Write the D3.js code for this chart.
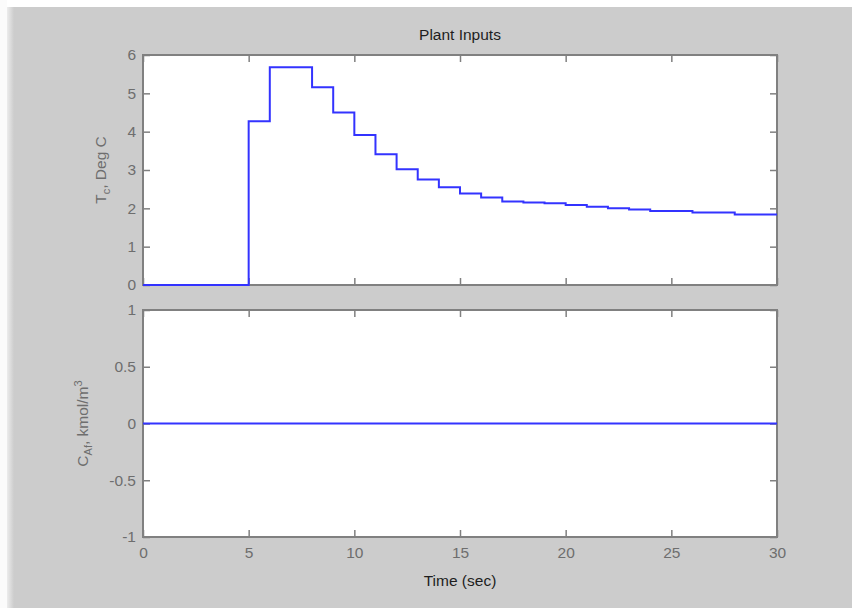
<!DOCTYPE html>
<html>
<head>
<meta charset="utf-8">
<script src="https://cdn.jsdelivr.net/npm/d3@7"></script>
<style>
  html, body { margin: 0; padding: 0; background: #cccccc; }
  svg { display: block; }
  text { font-family: "Liberation Sans", Arial, sans-serif; }
</style>
</head>
<body>
<svg id="chart" width="852" height="608"></svg>
<script>
// ---- data ----
const titleText = "Plant Inputs";
const xLabelText = "Time (sec)";
const sampleTimes = [0,1,2,3,4,5,6,7,8,9,10,11,12,13,14,15,16,17,18,19,20,21,22,23,24,25,26,27,28,29,30];
const tcValues    = [0,0,0,0,0,4.27,5.68,5.68,5.16,4.50,3.91,3.41,3.02,2.75,2.55,2.39,2.28,2.18,2.15,2.13,2.09,2.04,2.00,1.97,1.93,1.93,1.89,1.89,1.84,1.84,1.84];
const cafTimes  = [0, 30];
const cafValues = [0, 0];
const xTicks    = [0,5,10,15,20,25,30];
const topYTicks = [0,1,2,3,4,5,6];
const botYTicks = [-1,-0.5,0,0.5,1];

// ---- layout ----
const svg = d3.select("#chart");
const W = 852, H = 608;
const left = 143, right = 777;
const top1 = 55, bot1 = 285;
const top2 = 310, bot2 = 537;
const axisColor = "#808080", tickTextColor = "#6e6e6e", lineColor = "#3333ff";
const fs = 15.5;

// background decorations (white border strip at top/left)
const defs = svg.append("defs");
const grad = defs.append("linearGradient").attr("id", "lg").attr("x1", 0).attr("x2", 1);
grad.append("stop").attr("offset", "0%").attr("stop-color", "#ececec");
grad.append("stop").attr("offset", "100%").attr("stop-color", "#cccccc");
svg.append("rect").attr("x", 0).attr("y", 0).attr("width", W).attr("height", H).attr("fill", "#cccccc");
svg.append("rect").attr("x", 7).attr("y", 7).attr("width", 7).attr("height", H - 7).attr("fill", "url(#lg)");
svg.append("rect").attr("x", 0).attr("y", 0).attr("width", W).attr("height", 7).attr("fill", "#ffffff");
svg.append("rect").attr("x", 0).attr("y", 0).attr("width", 7).attr("height", H).attr("fill", "#fbfbfb");

const x = d3.scaleLinear().domain([0, 30]).range([left, right]);
const yTop = d3.scaleLinear().domain([0, 6]).range([bot1, top1]);
const yBot = d3.scaleLinear().domain([-1, 1]).range([bot2, top2]);

function panel(y, yTicks, yFmt, showXLabels) {
  const g = svg.append("g");
  const y0 = y.range()[0], y1 = y.range()[1];
  g.append("rect").attr("x", left).attr("y", y1).attr("width", right - left).attr("height", y0 - y1)
    .attr("fill", "#ffffff");
  const ab = g.append("g").attr("transform", `translate(0,${y0})`)
    .call(d3.axisBottom(x).tickValues(xTicks).tickSizeInner(-7).tickSizeOuter(0).tickPadding(10)
      .tickFormat(showXLabels ? d3.format("d") : ""));
  const at = g.append("g").attr("transform", `translate(0,${y1})`)
    .call(d3.axisTop(x).tickValues(xTicks).tickSizeInner(-7).tickSizeOuter(0).tickFormat(""));
  const al = g.append("g").attr("transform", `translate(${left},0)`)
    .call(d3.axisLeft(y).tickValues(yTicks).tickSizeInner(-7).tickSizeOuter(0).tickPadding(7).tickFormat(yFmt));
  const ar = g.append("g").attr("transform", `translate(${right},0)`)
    .call(d3.axisRight(y).tickValues(yTicks).tickSizeInner(-7).tickSizeOuter(0).tickFormat(""));
  [ab, at, al, ar].forEach(a => {
    a.select(".domain").remove();
    a.selectAll("line").attr("stroke", axisColor).attr("stroke-width", 1.5);
    a.selectAll("text").attr("fill", tickTextColor).style("font-size", fs + "px")
      .style("font-family", '"Liberation Sans", Arial, sans-serif');
  });
  g.append("rect").attr("x", left).attr("y", y1).attr("width", right - left).attr("height", y0 - y1)
    .attr("fill", "none").attr("stroke", axisColor).attr("stroke-width", 2);
  return g;
}

const fmtTop = d3.format("d");
const fmtBot = v => String(v);

panel(yTop, topYTicks, fmtTop, false);
panel(yBot, botYTicks, fmtBot, true);

// data lines
const stepLine = (yS) => d3.line().x(d => x(d[0])).y(d => yS(d[1])).curve(d3.curveStepAfter);
svg.append("path")
  .datum(sampleTimes.map((t, i) => [t, tcValues[i]]))
  .attr("d", stepLine(yTop))
  .attr("fill", "none").attr("stroke", lineColor).attr("stroke-width", 2);
svg.append("path")
  .datum(cafTimes.map((t, i) => [t, cafValues[i]]))
  .attr("d", stepLine(yBot))
  .attr("fill", "none").attr("stroke", lineColor).attr("stroke-width", 2);

// title
svg.append("text").attr("x", (left + right) / 2).attr("y", 40).attr("text-anchor", "middle")
  .attr("fill", "#1e1e1e").style("font-size", fs + "px").text(titleText);

// x label
svg.append("text").attr("x", (left + right) / 2).attr("y", 586).attr("text-anchor", "middle")
  .attr("fill", "#1e1e1e").style("font-size", fs + "px").text(xLabelText);

// y label top: T_c, Deg C
const yl1 = svg.append("text")
  .attr("transform", `translate(106,${(top1 + bot1) / 2}) rotate(-90)`)
  .attr("text-anchor", "middle").attr("fill", tickTextColor).style("font-size", fs + "px");
yl1.append("tspan").text("T");
yl1.append("tspan").attr("dy", 4).style("font-size", "11px").text("c");
yl1.append("tspan").attr("dy", -4).text(", Deg C");

// y label bottom: C_Af, kmol/m^3
const yl2 = svg.append("text")
  .attr("transform", `translate(88,${(top2 + bot2) / 2}) rotate(-90)`)
  .attr("text-anchor", "middle").attr("fill", tickTextColor).style("font-size", fs + "px");
yl2.append("tspan").text("C");
yl2.append("tspan").attr("dy", 4).style("font-size", "11px").text("Af");
yl2.append("tspan").attr("dy", -4).text(", kmol/m");
yl2.append("tspan").attr("dy", -6).style("font-size", "11px").text("3");
</script>
</body>
</html>
